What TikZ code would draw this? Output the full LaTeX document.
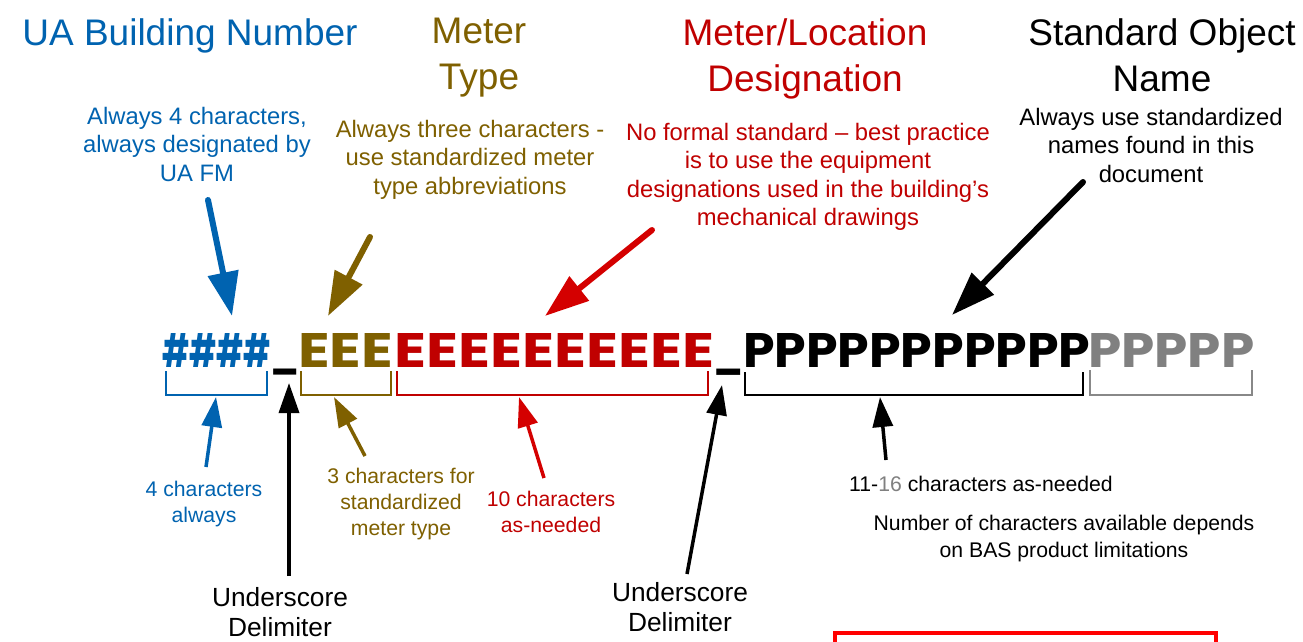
\documentclass[tikz,border=0pt]{standalone}
\usepackage{fontspec}
\setmainfont{Liberation Sans}
\newfontfamily\codefont{Poppins}
\usetikzlibrary{arrows.meta}
\definecolor{uablue}{RGB}{0,99,176}
\definecolor{mbrown}{RGB}{127,96,0}
\definecolor{mred}{RGB}{192,0,0}
\definecolor{ared}{RGB}{212,0,0}
\definecolor{pgray}{RGB}{128,128,128}
\definecolor{bgray}{RGB}{136,136,136}
\tikzset{
  title/.style={font=\fontsize{37}{46}\selectfont, align=center, anchor=north, inner sep=0pt},
  desc/.style={font=\fontsize{23.8}{28.5}\selectfont, align=center, anchor=north, inner sep=0pt},
  lowlab/.style={font=\fontsize{21.2}{26}\selectfont, align=center, anchor=north, inner sep=0pt},
  delim/.style={font=\fontsize{26.3}{30}\selectfont, align=center, anchor=north, inner sep=0pt},
  codeseg/.style={anchor=base west, inner sep=0pt, font=\codefont\bfseries\fontsize{48}{48}\selectfont},
  brk/.style={line width=2pt},
  bigarrow/.style={line width=6pt, line cap=round, -{Triangle[length=44pt,width=30pt]}},
  smallarrow/.style={line width=3.5pt, -{Triangle[length=30pt,width=20pt]}}
}
\begin{document}
\begin{tikzpicture}[x=1pt,y=-1pt]
\useasboundingbox (0,0) rectangle (1303,641);
\fill[white] (0,0) rectangle (1303,641);

% titles
\node[title, uablue] (t1) at (190,18) {UA Building Number};
\node[title, mbrown] (t2) at (479,18) {Meter\\Type};
\node[title, mred] (t3) at (805,18) {Meter/Location\\Designation};
\node[title, black] (t4) at (1162,18) {Standard Object\\Name};

% descriptions
\node[desc, uablue] (d1) at (197,107) {Always 4 characters,\\always designated by\\UA FM};
\node[desc, mbrown] (d2) at (470,120) {Always three characters -\\use standardized meter\\type abbreviations};
\node[desc, mred] (d3) at (808,123) {No formal standard – best practice\\is to use the equipment\\designations used in the building’s\\mechanical drawings};
\node[desc, black] (d4) at (1151,108) {Always use standardized\\names found in this\\document};

% code string
\node[codeseg, uablue] (hash) at (162,367) {\resizebox{109pt}{34pt}{\#\#\#\#}};
\node[codeseg, black] (us1) at (270,367) {\resizebox{29pt}{!}{\_}};
\node[codeseg, mbrown] (eee) at (298,367) {\resizebox{95pt}{34pt}{EEE}};
\node[codeseg, mred] (eten) at (394,367) {\resizebox{320pt}{34pt}{EEEEEEEEEE}};
\node[codeseg, black] (us2) at (713,367) {\resizebox{30pt}{!}{\_}};
\node[codeseg, black] (pblk) at (743,367) {\resizebox{347pt}{34pt}{PPPPPPPPPPP}};
\node[codeseg, pgray] (pgry) at (1088,367) {\resizebox{166pt}{34pt}{PPPPP}};

% brackets
\draw[brk, uablue] (166,371) |- (267,395) -- (267,371);
\draw[brk, mbrown] (301,371) |- (391,395) -- (391,371);
\draw[brk, mred] (397,371) |- (708,395) -- (708,371);
\draw[brk, black] (745,372) |- (1083,395) -- (1083,372);
\draw[brk, bgray] (1090,370) |- (1252,395) -- (1252,370);

% top arrows
\coordinate (a1s) at (208,200); \coordinate (a1e) at (232,316);
\coordinate (a2s) at (370,237); \coordinate (a2e) at (328,316);
\coordinate (a3s) at (652,230); \coordinate (a3e) at (545,316);
\coordinate (a4s) at (1083,182); \coordinate (a4e) at (952,315);
\draw[bigarrow, uablue] (a1s) -- (a1e);
\draw[bigarrow, mbrown] (a2s) -- (a2e);
\draw[bigarrow, ared] (a3s) -- (a3e);
\draw[bigarrow, black] (a4s) -- (a4e);

% lower labels
\node[lowlab, uablue] (l1) at (204,481) {4 characters\\always};
\node[lowlab, mbrown] (l2) at (401,468) {3 characters for\\standardized\\meter type};
\node[lowlab, mred] (l3) at (551,491) {10 characters\\as-needed};
\node[lowlab, black] (l4) at (981,476) {11-{\color{pgray}16} characters as-needed};
\node[lowlab, black] (l5) at (1064,515) {Number of characters available depends\\[1pt]on BAS product limitations};

% lower arrows
\coordinate (b1s) at (206,467); \coordinate (b1e) at (216,397);
\coordinate (b2s) at (365,456); \coordinate (b2e) at (334,397);
\coordinate (b3s) at (544,478); \coordinate (b3e) at (519,397);
\coordinate (b4s) at (886,460); \coordinate (b4e) at (880,397);
\coordinate (u1s) at (289,576); \coordinate (u1e) at (289,383);
\coordinate (u2s) at (687,574); \coordinate (u2e) at (722,385);
\draw[smallarrow, uablue] (b1s) -- (b1e);
\draw[smallarrow, mbrown] (b2s) -- (b2e);
\draw[smallarrow, ared] (b3s) -- (b3e);
\draw[smallarrow, black] (b4s) -- (b4e);
\draw[smallarrow, black] (u1s) -- (u1e);
\draw[smallarrow, black] (u2s) -- (u2e);

\node[delim, black] (dl1) at (280,587) {Underscore\\Delimiter};
\node[delim, black] (dl2) at (680,582) {Underscore\\Delimiter};
\begin{scope}
\clip (0,0) rectangle (1303,641);
\draw[red, line width=4pt] (835,633) rectangle (1216,700);
\end{scope}
\end{tikzpicture}
\end{document}
